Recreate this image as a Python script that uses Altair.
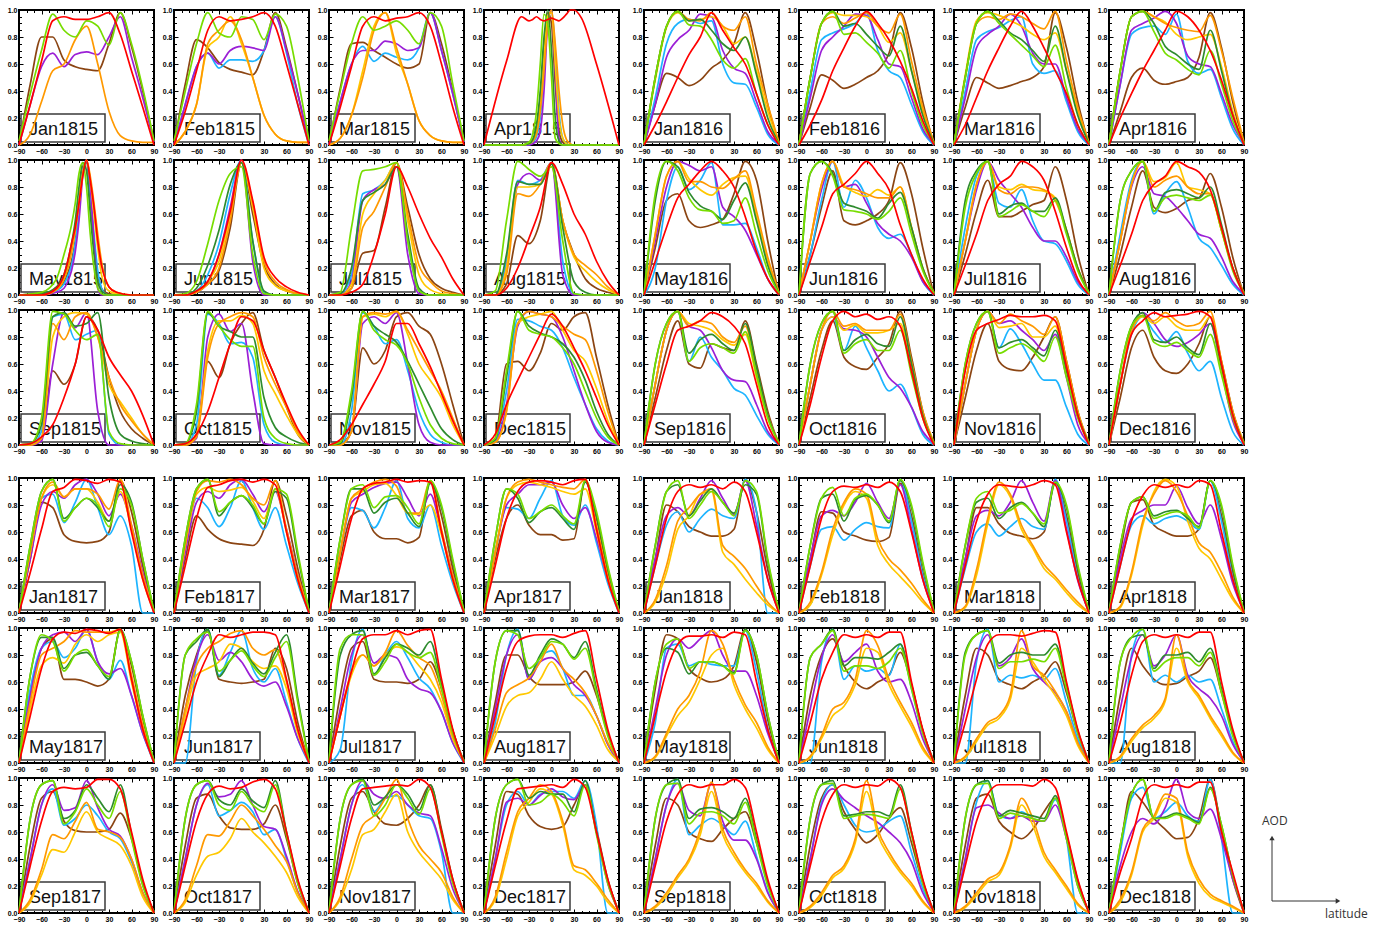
import altair as alt
import pandas as pd

# latitude grids (degrees)
LAT = [-90, -75, -60, -45, -30, -15, 0, 15, 30, 45, 60, 75, 90]
LAT_FINE = [-90, -60, -40, -30, -25, -20, -15, -10, -5, 0, 5, 10, 15, 20, 25, 30, 40, 60, 90]

X_TICKS = [-90, -60, -30, 0, 30, 60, 90]
X_MINOR = [-80, -70, -50, -40, -20, -10, 10, 20, 40, 50, 70, 80]
Y_TICKS = [0.0, 0.2, 0.4, 0.6, 0.8, 1.0]
Y_MINOR = [0.05, 0.1, 0.15, 0.25, 0.3, 0.35, 0.45, 0.5, 0.55, 0.65, 0.7, 0.75, 0.85, 0.9, 0.95]

# series keys: R red, O orange, Y gold, L lime, G green, B brown, C sky blue, P purple
SERIES = ["B", "C", "P", "Y", "O", "G", "L", "R"]
COLORS = ["#8b4513", "#1eb4ff", "#9b1fd6", "#ffc800", "#ff9900", "#2e8b2e", "#77dd00", "#ff0000"]

# normalised AOD values (x100)
JAN1815 = dict(
    R=[0, 30, 62, 92, 95, 93, 93, 95, 98, 82, 55, 28, 0],
    O=[0, 8, 32, 55, 60, 78, 88, 60, 25, 7, 3, 2, 2],
    L=[3, 38, 70, 97, 85, 80, 92, 88, 74, 98, 75, 42, 3],
    B=[0, 45, 80, 80, 63, 58, 56, 55, 75, 98, 73, 40, 2],
    P=[0, 30, 58, 68, 58, 67, 69, 67, 80, 95, 65, 35, 2],
)
FEB1815 = dict(
    R=[0, 25, 55, 85, 95, 92, 93, 95, 98, 88, 60, 30, 0],
    O=[0, 10, 30, 75, 85, 92, 78, 50, 22, 8, 3, 2, 2],
    Y=[0, 10, 30, 72, 80, 95, 75, 50, 22, 8, 3, 2, 2],
    L=[3, 40, 75, 98, 83, 80, 95, 93, 78, 97, 88, 50, 3],
    B=[0, 45, 78, 72, 61, 56, 54, 52, 70, 98, 72, 38, 2],
    C=[0, 30, 58, 68, 57, 63, 63, 62, 70, 95, 68, 30, 0],
    P=[0, 30, 58, 68, 60, 70, 73, 72, 70, 95, 70, 38, 2],
)
MAR1815 = dict(
    R=[0, 28, 58, 88, 95, 92, 94, 95, 98, 88, 60, 28, 0],
    O=[0, 5, 22, 50, 85, 98, 72, 45, 18, 7, 3, 2, 2],
    Y=[0, 5, 22, 55, 88, 98, 68, 45, 18, 7, 3, 2, 2],
    L=[3, 40, 75, 95, 85, 88, 92, 85, 75, 98, 88, 45, 3],
    B=[0, 42, 75, 76, 70, 65, 60, 57, 60, 98, 75, 40, 2],
    C=[0, 32, 60, 73, 62, 68, 65, 63, 72, 98, 70, 38, 2],
    P=[0, 32, 60, 70, 70, 77, 75, 70, 72, 98, 70, 38, 2],
)
APR1815 = dict(
    lat=LAT_FINE,
    R=[0, 62, 95, 92, 93, 95, 93, 92, 93, 94, 93, 92, 94, 97, 100, 100, 94, 60, 0],
    L=[0, 0, 0, 2, 8, 25, 60, 97, 90, 50, 5, 1, 0, 0, 0, 0, 0, 0, 0],
    G=[0, 0, 0, 1, 4, 15, 40, 80, 100, 70, 20, 3, 0, 0, 0, 0, 0, 0, 0],
    Y=[0, 0, 0, 1, 3, 10, 30, 65, 95, 98, 60, 20, 5, 1, 0, 0, 0, 0, 0],
    O=[0, 0, 0, 1, 3, 8, 25, 55, 90, 100, 75, 40, 15, 4, 1, 0, 0, 0, 0],
    B=[0, 0, 0, 1, 4, 12, 35, 70, 98, 90, 45, 10, 2, 0, 0, 0, 0, 0, 0],
    C=[0, 0, 0, 0, 2, 6, 20, 55, 92, 100, 70, 25, 5, 1, 0, 0, 0, 0, 0],
    P=[0, 0, 0, 0, 1, 3, 10, 40, 90, 100, 55, 5, 0, 0, 0, 0, 0, 0, 0],
)
MAY1815 = dict(
    lat=LAT_FINE,
    L=[0, 2, 12, 30, 40, 52, 68, 90, 98, 80, 45, 20, 5, 1, 0, 0, 0, 0, 0],
    G=[0, 1, 6, 15, 25, 38, 55, 80, 98, 92, 60, 30, 10, 3, 1, 0, 0, 0, 0],
    B=[0, 1, 4, 10, 16, 25, 40, 65, 95, 98, 70, 40, 15, 5, 2, 1, 0, 0, 0],
    C=[0, 0, 3, 8, 14, 22, 38, 62, 92, 100, 75, 45, 18, 5, 1, 0, 0, 0, 0],
    P=[0, 0, 2, 5, 10, 18, 32, 55, 88, 100, 80, 40, 5, 0, 0, 0, 0, 0, 0],
    R=[0, 0, 5, 15, 25, 38, 50, 68, 88, 100, 85, 65, 40, 22, 12, 6, 2, 0, 0],
    O=[0, 0, 4, 12, 20, 32, 48, 68, 90, 100, 88, 68, 45, 25, 12, 6, 2, 0, 0],
    Y=[0, 0, 4, 12, 20, 32, 48, 68, 90, 100, 85, 60, 35, 15, 6, 3, 1, 0, 0],
)
JUN1815 = dict(
    L=[0, 1, 10, 38, 70, 90, 95, 30, 1, 0, 0, 0, 0],
    G=[0, 0, 5, 22, 48, 82, 98, 40, 3, 0, 0, 0, 0],
    C=[0, 0, 3, 15, 38, 75, 100, 40, 2, 0, 0, 0, 0],
    P=[0, 0, 2, 10, 30, 65, 100, 25, 0, 0, 0, 0, 0],
    B=[0, 0, 2, 8, 18, 50, 98, 60, 22, 8, 3, 1, 0],
    O=[0, 0, 2, 8, 20, 55, 98, 68, 25, 10, 4, 1, 0],
    Y=[0, 0, 2, 10, 25, 60, 98, 65, 20, 7, 3, 1, 0],
    R=[0, 0, 3, 10, 30, 62, 100, 70, 28, 13, 6, 2, 0],
)
JUL1815 = dict(
    L=[0, 2, 50, 92, 93, 95, 98, 40, 3, 0, 0, 0, 0],
    G=[0, 1, 20, 70, 76, 82, 95, 45, 5, 0, 0, 0, 0],
    C=[0, 1, 15, 75, 78, 85, 98, 40, 3, 0, 0, 0, 0],
    P=[0, 0, 10, 70, 78, 82, 95, 30, 1, 0, 0, 0, 0],
    Y=[0, 0, 8, 60, 75, 85, 98, 55, 15, 4, 1, 0, 0],
    O=[0, 0, 5, 50, 62, 80, 98, 60, 22, 10, 3, 1, 0],
    B=[0, 0, 5, 31, 33, 65, 98, 65, 30, 12, 5, 2, 0],
    R=[0, 0, 2, 8, 30, 60, 95, 80, 60, 42, 28, 12, 0],
)
AUG1815 = dict(
    L=[0, 3, 55, 99, 93, 88, 95, 40, 1, 0, 0, 0, 0],
    P=[0, 0, 20, 82, 90, 85, 98, 15, 0, 0, 0, 0, 0],
    C=[0, 0, 25, 85, 82, 85, 98, 25, 1, 0, 0, 0, 0],
    G=[0, 0, 30, 84, 82, 82, 97, 50, 10, 2, 0, 0, 0],
    Y=[0, 0, 20, 80, 80, 82, 95, 55, 28, 18, 10, 4, 0],
    O=[0, 0, 15, 75, 73, 82, 98, 55, 30, 22, 15, 6, 0],
    B=[0, 0, 8, 44, 38, 55, 98, 55, 30, 12, 5, 2, 0],
    R=[0, 0, 5, 20, 42, 65, 98, 82, 60, 45, 25, 10, 0],
)
SEP1815 = dict(
    L=[0, 1, 20, 99, 97, 85, 78, 82, 10, 1, 0, 0, 0],
    G=[0, 1, 15, 95, 98, 88, 90, 98, 35, 8, 3, 1, 0],
    C=[0, 0, 10, 95, 97, 78, 82, 85, 8, 0, 0, 0, 0],
    P=[0, 0, 3, 60, 98, 87, 98, 25, 0, 0, 0, 0, 0],
    O=[0, 0, 5, 90, 78, 95, 98, 80, 50, 30, 18, 8, 0],
    Y=[0, 0, 5, 80, 95, 98, 97, 80, 45, 32, 20, 8, 0],
    B=[0, 0, 5, 55, 45, 60, 95, 85, 50, 25, 12, 5, 0],
    R=[0, 1, 6, 15, 35, 60, 95, 85, 65, 52, 40, 22, 0],
)
OCT1815 = dict(
    L=[0, 1, 30, 99, 88, 78, 73, 73, 20, 5, 1, 0, 0],
    G=[0, 1, 25, 98, 88, 84, 80, 80, 35, 13, 6, 2, 0],
    C=[0, 0, 15, 97, 90, 75, 76, 65, 15, 2, 0, 0, 0],
    P=[0, 0, 5, 80, 97, 84, 90, 40, 1, 0, 0, 0, 0],
    Y=[0, 0, 8, 70, 92, 92, 96, 90, 55, 38, 22, 8, 0],
    O=[0, 0, 6, 65, 90, 95, 98, 95, 65, 45, 28, 10, 0],
    B=[0, 0, 8, 62, 50, 75, 90, 98, 70, 50, 28, 8, 0],
    R=[0, 1, 8, 25, 50, 75, 95, 92, 70, 50, 30, 12, 0],
)
NOV1815 = dict(
    L=[0, 2, 40, 99, 85, 78, 74, 60, 35, 15, 5, 1, 0],
    G=[0, 1, 35, 99, 88, 82, 76, 62, 45, 28, 12, 4, 0],
    C=[0, 0, 25, 98, 88, 75, 78, 55, 25, 8, 2, 0, 0],
    P=[0, 0, 10, 90, 95, 90, 98, 60, 15, 2, 0, 0, 0],
    Y=[0, 0, 10, 95, 97, 95, 99, 82, 60, 48, 35, 15, 0],
    O=[0, 0, 10, 95, 98, 97, 99, 85, 70, 55, 40, 20, 0],
    B=[0, 1, 10, 72, 60, 70, 95, 98, 88, 82, 60, 30, 0],
    R=[0, 4, 15, 30, 45, 62, 90, 90, 75, 58, 38, 18, 0],
)
DEC1815 = dict(
    L=[0, 5, 55, 99, 85, 82, 80, 72, 60, 40, 20, 6, 0],
    G=[0, 4, 50, 99, 88, 83, 80, 75, 65, 48, 25, 8, 0],
    C=[0, 3, 40, 93, 92, 88, 85, 72, 50, 30, 12, 3, 0],
    P=[0, 2, 30, 88, 99, 97, 95, 80, 55, 30, 10, 2, 0],
    Y=[0, 2, 25, 90, 95, 97, 99, 85, 70, 62, 42, 18, 0],
    O=[0, 2, 25, 90, 99, 97, 95, 88, 82, 78, 55, 25, 0],
    B=[0, 5, 60, 62, 55, 68, 90, 85, 95, 98, 65, 30, 0],
    R=[0, 8, 30, 48, 65, 82, 97, 88, 72, 55, 35, 15, 0],
)

JAN1816 = dict(
    O=[0, 50, 88, 99, 93, 92, 98, 88, 85, 95, 60, 30, 2],
    Y=[0, 48, 87, 98, 92, 93, 95, 88, 75, 80, 55, 25, 1],
    L=[0, 50, 88, 99, 89, 88, 78, 63, 57, 64, 38, 15, 1],
    G=[0, 50, 88, 99, 92, 93, 85, 75, 70, 80, 52, 20, 1],
    B=[0, 30, 53, 50, 44, 48, 57, 63, 75, 98, 70, 30, 0],
    C=[0, 35, 75, 90, 93, 90, 92, 60, 46, 45, 28, 8, 0],
    P=[0, 30, 65, 78, 85, 97, 95, 70, 57, 53, 32, 10, 1],
    R=[0, 15, 32, 50, 67, 80, 98, 85, 72, 60, 38, 15, 0],
)
FEB1816 = dict(
    O=[0, 50, 90, 95, 90, 94, 98, 88, 83, 97, 62, 28, 2],
    Y=[0, 50, 90, 98, 96, 96, 95, 88, 76, 83, 55, 25, 1],
    L=[0, 50, 90, 99, 82, 83, 76, 68, 57, 70, 40, 15, 1],
    G=[0, 50, 90, 99, 88, 90, 82, 73, 66, 88, 55, 22, 1],
    B=[0, 28, 52, 48, 42, 45, 50, 55, 68, 98, 72, 32, 0],
    C=[0, 40, 78, 83, 86, 90, 98, 70, 55, 50, 30, 10, 0],
    P=[0, 35, 70, 80, 88, 97, 96, 78, 60, 58, 35, 12, 1],
    R=[0, 15, 33, 55, 72, 88, 99, 90, 78, 62, 42, 18, 0],
)
MAR1816 = dict(
    O=[0, 50, 90, 95, 93, 97, 95, 90, 86, 99, 62, 28, 2],
    Y=[0, 52, 92, 98, 96, 92, 88, 82, 78, 83, 55, 25, 1],
    L=[0, 50, 90, 99, 90, 82, 74, 66, 58, 74, 42, 15, 1],
    G=[0, 50, 90, 99, 92, 83, 78, 70, 62, 88, 55, 22, 1],
    B=[0, 28, 50, 46, 42, 44, 47, 50, 58, 98, 72, 32, 0],
    C=[0, 40, 78, 84, 87, 92, 95, 60, 53, 55, 32, 10, 0],
    P=[0, 35, 72, 82, 88, 97, 88, 68, 60, 60, 35, 12, 1],
    R=[0, 15, 35, 55, 72, 88, 99, 88, 72, 55, 38, 15, 0],
)
APR1816 = dict(
    O=[0, 55, 95, 99, 95, 90, 87, 85, 84, 96, 70, 35, 2],
    Y=[0, 55, 95, 99, 95, 91, 82, 78, 80, 82, 58, 25, 1],
    L=[0, 55, 95, 99, 84, 68, 63, 56, 52, 70, 45, 18, 1],
    G=[0, 55, 95, 99, 90, 73, 67, 60, 56, 85, 55, 22, 1],
    B=[0, 25, 50, 57, 48, 45, 47, 50, 65, 98, 72, 32, 0],
    C=[0, 45, 82, 87, 88, 82, 97, 62, 53, 56, 35, 12, 0],
    P=[0, 45, 85, 90, 94, 99, 90, 66, 60, 58, 38, 15, 1],
    R=[0, 20, 38, 55, 70, 85, 99, 95, 85, 70, 48, 22, 0],
)
MAY1816 = dict(
    L=[0, 75, 99, 92, 72, 63, 62, 53, 55, 72, 45, 18, 1],
    G=[0, 70, 99, 95, 76, 66, 62, 56, 70, 83, 55, 22, 1],
    O=[0, 45, 88, 99, 84, 84, 80, 79, 86, 92, 62, 28, 2],
    Y=[0, 45, 88, 99, 86, 78, 74, 82, 87, 88, 58, 25, 1],
    B=[0, 35, 70, 75, 55, 50, 52, 56, 75, 99, 85, 40, 0],
    C=[0, 20, 70, 95, 78, 85, 98, 52, 52, 53, 35, 12, 0],
    P=[0, 40, 80, 99, 96, 92, 95, 65, 58, 48, 30, 12, 1],
    R=[0, 25, 50, 72, 82, 92, 99, 92, 80, 58, 32, 12, 0],
)
JUN1816 = dict(
    L=[0, 90, 99, 88, 63, 62, 60, 56, 62, 72, 45, 18, 1],
    G=[0, 90, 99, 90, 68, 65, 62, 57, 68, 76, 50, 20, 1],
    O=[0, 40, 82, 99, 80, 78, 75, 72, 72, 80, 50, 20, 2],
    Y=[0, 40, 82, 99, 81, 76, 73, 78, 74, 80, 50, 20, 1],
    B=[0, 30, 65, 92, 55, 52, 55, 60, 70, 98, 75, 35, 0],
    C=[0, 30, 70, 99, 65, 85, 72, 50, 42, 45, 30, 10, 0],
    P=[0, 40, 78, 99, 80, 82, 68, 53, 45, 40, 28, 10, 1],
    R=[0, 25, 50, 75, 82, 90, 99, 90, 78, 52, 30, 12, 0],
)
JUL1816 = dict(
    L=[0, 65, 90, 99, 58, 62, 67, 62, 58, 70, 45, 18, 1],
    G=[0, 70, 92, 99, 60, 66, 68, 62, 62, 72, 48, 20, 1],
    O=[0, 40, 82, 99, 78, 75, 80, 80, 78, 70, 48, 20, 2],
    Y=[0, 40, 82, 99, 80, 78, 82, 78, 77, 72, 48, 20, 1],
    B=[0, 30, 62, 85, 58, 58, 62, 67, 70, 95, 70, 30, 0],
    C=[0, 50, 88, 99, 68, 65, 78, 55, 40, 38, 25, 8, 0],
    P=[0, 40, 78, 99, 85, 75, 65, 50, 40, 40, 28, 10, 1],
    R=[0, 22, 45, 70, 82, 88, 99, 95, 85, 62, 35, 12, 0],
)
AUG1816 = dict(
    L=[0, 70, 92, 99, 62, 72, 74, 72, 70, 74, 48, 18, 1],
    G=[0, 70, 92, 99, 62, 76, 78, 75, 72, 80, 52, 20, 1],
    O=[0, 40, 82, 99, 80, 85, 88, 80, 75, 75, 48, 20, 2],
    Y=[0, 40, 82, 99, 84, 87, 98, 80, 78, 75, 48, 20, 1],
    B=[0, 30, 65, 92, 65, 61, 64, 70, 72, 90, 65, 28, 0],
    C=[0, 45, 85, 99, 60, 75, 84, 65, 42, 35, 22, 8, 0],
    P=[0, 40, 80, 95, 75, 73, 65, 55, 45, 42, 28, 10, 1],
    R=[0, 22, 45, 70, 82, 88, 99, 95, 91, 78, 50, 20, 0],
)
SEP1816 = dict(
    R=[0, 30, 60, 85, 88, 92, 98, 95, 88, 75, 45, 15, 0],
    O=[0, 45, 85, 99, 88, 92, 90, 80, 76, 88, 55, 22, 2],
    Y=[0, 45, 85, 99, 90, 88, 85, 78, 74, 82, 50, 20, 1],
    L=[0, 60, 90, 99, 62, 72, 75, 72, 68, 84, 52, 20, 1],
    G=[0, 60, 90, 99, 68, 78, 82, 75, 70, 90, 58, 22, 1],
    B=[0, 35, 70, 92, 60, 57, 75, 72, 70, 92, 60, 25, 0],
    C=[0, 45, 85, 99, 62, 80, 65, 55, 42, 37, 22, 8, 0],
    P=[0, 45, 85, 99, 88, 85, 72, 55, 48, 47, 30, 10, 1],
)
OCT1816 = dict(
    R=[0, 30, 65, 92, 99, 95, 97, 93, 95, 88, 55, 20, 0],
    O=[0, 45, 85, 99, 88, 90, 85, 85, 85, 97, 62, 25, 2],
    Y=[0, 45, 85, 95, 85, 89, 83, 83, 85, 90, 55, 22, 1],
    L=[0, 60, 90, 99, 68, 75, 78, 70, 70, 85, 52, 20, 1],
    G=[0, 60, 90, 99, 70, 78, 82, 75, 73, 95, 60, 22, 1],
    B=[0, 35, 70, 92, 65, 58, 56, 65, 75, 99, 65, 25, 0],
    C=[0, 45, 85, 95, 70, 88, 72, 55, 40, 45, 28, 8, 0],
    P=[0, 45, 85, 95, 86, 85, 80, 65, 50, 42, 28, 10, 1],
)
NOV1816 = dict(
    R=[0, 55, 85, 90, 93, 96, 95, 95, 96, 92, 58, 22, 0],
    O=[0, 45, 85, 99, 90, 97, 92, 88, 82, 95, 62, 25, 2],
    Y=[0, 45, 85, 99, 87, 88, 90, 80, 80, 88, 55, 22, 1],
    L=[0, 60, 90, 99, 68, 72, 75, 70, 62, 80, 50, 20, 1],
    G=[0, 60, 90, 99, 72, 76, 78, 72, 66, 85, 55, 22, 1],
    B=[0, 35, 70, 90, 62, 56, 55, 65, 80, 95, 62, 25, 0],
    C=[0, 45, 85, 99, 72, 86, 75, 60, 48, 48, 28, 8, 0],
    P=[0, 45, 85, 99, 90, 92, 85, 78, 70, 82, 50, 15, 1],
)
DEC1816 = dict(
    R=[0, 45, 82, 92, 98, 95, 96, 97, 99, 95, 60, 22, 0],
    O=[0, 45, 85, 96, 92, 98, 92, 88, 90, 99, 62, 25, 2],
    Y=[0, 45, 85, 95, 90, 95, 88, 85, 85, 95, 55, 22, 1],
    L=[0, 55, 88, 96, 76, 73, 76, 70, 65, 82, 52, 20, 1],
    G=[0, 55, 88, 98, 78, 76, 80, 72, 67, 90, 58, 22, 1],
    B=[0, 35, 72, 85, 65, 55, 53, 60, 75, 95, 62, 25, 0],
    C=[0, 45, 82, 95, 84, 76, 84, 68, 55, 62, 35, 10, 0],
    P=[0, 45, 85, 98, 90, 78, 73, 76, 82, 90, 55, 18, 1],
)

JAN1817 = dict(
    R=[0, 30, 62, 90, 93, 99, 98, 96, 99, 97, 60, 25, 0],
    O=[0, 45, 85, 97, 86, 92, 92, 88, 77, 99, 65, 28, 2],
    Y=[0, 45, 85, 95, 86, 92, 92, 82, 68, 90, 62, 25, 1],
    L=[0, 50, 90, 99, 68, 78, 85, 80, 64, 92, 80, 40, 1],
    G=[0, 50, 90, 99, 70, 78, 85, 78, 68, 95, 82, 40, 1],
    B=[0, 40, 82, 78, 58, 53, 52, 53, 60, 98, 75, 35, 0],
    C=[0, 45, 85, 88, 67, 82, 99, 78, 58, 72, 50, 0, 0],
    P=[0, 40, 80, 90, 85, 95, 99, 88, 72, 88, 65, 30, 1],
)
FEB1817 = dict(
    R=[0, 35, 70, 93, 95, 98, 99, 97, 99, 95, 60, 25, 0],
    O=[0, 50, 90, 98, 97, 99, 95, 85, 80, 98, 62, 28, 2],
    Y=[0, 50, 88, 93, 90, 91, 93, 83, 70, 92, 60, 25, 1],
    L=[0, 55, 92, 99, 75, 82, 87, 80, 66, 92, 88, 45, 1],
    G=[0, 55, 92, 99, 72, 82, 87, 78, 66, 90, 85, 42, 1],
    B=[0, 40, 72, 62, 55, 52, 51, 50, 62, 98, 72, 33, 0],
    C=[0, 48, 85, 78, 64, 78, 98, 78, 62, 78, 50, 22, 0],
    P=[0, 45, 82, 90, 85, 95, 99, 88, 75, 90, 62, 28, 1],
)
MAR1817 = dict(
    R=[0, 35, 70, 92, 96, 97, 99, 97, 98, 97, 60, 25, 0],
    O=[0, 45, 85, 92, 97, 99, 94, 74, 74, 98, 62, 28, 2],
    Y=[0, 45, 85, 90, 95, 96, 87, 74, 73, 80, 58, 25, 1],
    L=[0, 55, 92, 95, 78, 86, 87, 78, 66, 98, 80, 40, 1],
    G=[0, 55, 92, 92, 74, 82, 85, 74, 64, 96, 78, 38, 1],
    B=[0, 40, 72, 76, 60, 55, 55, 52, 56, 98, 72, 33, 0],
    C=[0, 45, 78, 76, 63, 78, 98, 70, 63, 80, 50, 22, 0],
    P=[0, 45, 82, 88, 93, 96, 97, 85, 72, 88, 60, 28, 1],
)
APR1817 = dict(
    R=[0, 35, 70, 90, 97, 98, 97, 95, 98, 99, 62, 25, 0],
    O=[0, 45, 85, 97, 99, 97, 95, 93, 92, 99, 65, 28, 2],
    Y=[0, 45, 85, 95, 97, 95, 93, 90, 88, 92, 60, 25, 1],
    L=[0, 55, 92, 88, 70, 75, 80, 72, 66, 98, 75, 35, 1],
    G=[0, 55, 92, 85, 67, 75, 78, 70, 62, 97, 72, 33, 1],
    B=[0, 40, 70, 80, 65, 58, 58, 54, 55, 98, 70, 30, 0],
    C=[0, 45, 78, 77, 70, 85, 98, 72, 65, 80, 52, 22, 0],
    P=[0, 45, 80, 88, 95, 95, 97, 80, 70, 78, 55, 25, 1],
)
MAY1817 = dict(
    R=[0, 35, 70, 92, 97, 96, 99, 98, 96, 99, 62, 25, 0],
    O=[0, 45, 80, 85, 90, 98, 97, 97, 97, 99, 65, 28, 2],
    Y=[0, 40, 72, 78, 74, 88, 95, 90, 95, 97, 60, 25, 1],
    L=[0, 65, 95, 90, 68, 80, 84, 72, 64, 98, 75, 35, 1],
    G=[0, 65, 93, 93, 70, 80, 82, 72, 62, 99, 75, 35, 1],
    B=[0, 50, 85, 92, 62, 62, 60, 57, 62, 98, 72, 33, 0],
    C=[0, 55, 85, 90, 78, 85, 99, 75, 62, 76, 50, 22, 0],
    P=[0, 50, 85, 95, 97, 90, 99, 75, 66, 70, 50, 22, 1],
)
JUN1817 = dict(
    L=[0, 80, 92, 97, 68, 76, 83, 72, 64, 78, 90, 45, 1],
    G=[0, 80, 90, 99, 64, 76, 85, 74, 66, 82, 95, 48, 1],
    B=[0, 50, 80, 98, 62, 60, 59, 60, 62, 85, 70, 30, 0],
    O=[0, 40, 72, 85, 90, 96, 98, 85, 80, 84, 60, 25, 2],
    Y=[0, 35, 65, 70, 75, 88, 85, 75, 70, 72, 55, 22, 1],
    C=[0, 0, 75, 99, 65, 82, 98, 70, 60, 70, 45, 18, 0],
    P=[0, 40, 78, 95, 76, 82, 75, 62, 57, 60, 42, 18, 1],
    R=[0, 30, 60, 80, 95, 93, 95, 97, 97, 95, 62, 25, 0],
)
JUL1817 = dict(
    L=[0, 85, 95, 95, 65, 75, 88, 82, 78, 82, 55, 22, 1],
    G=[0, 80, 95, 98, 66, 78, 88, 85, 80, 90, 58, 24, 1],
    O=[0, 35, 68, 80, 72, 82, 98, 87, 78, 72, 50, 20, 2],
    Y=[0, 35, 65, 80, 72, 80, 86, 82, 72, 62, 45, 18, 1],
    B=[0, 50, 85, 90, 62, 60, 60, 59, 62, 75, 55, 24, 0],
    C=[0, 10, 75, 99, 65, 80, 90, 78, 63, 55, 38, 15, 0],
    P=[0, 40, 80, 95, 74, 80, 78, 62, 55, 52, 38, 15, 1],
    R=[0, 35, 68, 92, 95, 95, 98, 95, 98, 99, 62, 25, 0],
)
AUG1817 = dict(
    L=[0, 75, 98, 95, 70, 78, 90, 88, 77, 85, 52, 20, 1],
    G=[0, 75, 98, 98, 65, 80, 92, 88, 78, 90, 55, 22, 1],
    O=[0, 25, 52, 58, 63, 75, 88, 70, 62, 52, 35, 15, 2],
    Y=[0, 20, 42, 50, 52, 62, 75, 62, 50, 42, 28, 10, 1],
    B=[0, 45, 80, 80, 64, 58, 58, 58, 60, 68, 50, 22, 0],
    C=[0, 30, 80, 99, 62, 78, 83, 70, 50, 50, 35, 14, 0],
    P=[0, 40, 80, 95, 62, 75, 78, 70, 58, 50, 35, 14, 1],
    R=[0, 35, 70, 90, 94, 95, 95, 93, 96, 98, 62, 25, 0],
)
SEP1817 = dict(
    R=[0, 35, 68, 90, 93, 92, 93, 99, 99, 92, 60, 25, 0],
    L=[0, 70, 95, 98, 66, 75, 92, 80, 70, 90, 55, 20, 1],
    G=[0, 70, 95, 98, 70, 76, 95, 85, 75, 95, 58, 22, 1],
    O=[0, 10, 32, 58, 55, 68, 82, 62, 60, 56, 40, 15, 0],
    Y=[0, 8, 28, 47, 45, 60, 75, 60, 55, 50, 35, 12, 0],
    B=[0, 50, 85, 90, 68, 61, 60, 60, 62, 74, 55, 22, 0],
    C=[0, 40, 80, 92, 65, 70, 80, 72, 60, 55, 38, 15, 0],
    P=[0, 40, 80, 95, 76, 78, 98, 78, 62, 57, 40, 15, 1],
)
OCT1817 = dict(
    R=[0, 35, 68, 88, 94, 92, 93, 97, 99, 92, 60, 25, 0],
    L=[0, 70, 95, 98, 80, 76, 90, 80, 75, 95, 58, 22, 1],
    G=[0, 70, 95, 98, 84, 80, 92, 83, 78, 98, 60, 24, 1],
    O=[0, 10, 35, 58, 57, 68, 80, 72, 62, 50, 38, 15, 0],
    Y=[0, 8, 28, 42, 45, 55, 70, 60, 52, 42, 30, 12, 0],
    B=[0, 50, 85, 88, 72, 63, 62, 62, 66, 80, 55, 22, 0],
    C=[0, 40, 80, 95, 72, 76, 82, 75, 58, 62, 40, 15, 0],
    P=[0, 40, 80, 96, 86, 88, 98, 80, 64, 62, 42, 16, 1],
)
NOV1817 = dict(
    R=[0, 35, 70, 92, 93, 94, 95, 94, 99, 93, 60, 25, 0],
    L=[0, 70, 95, 98, 72, 80, 95, 85, 73, 92, 58, 22, 1],
    G=[0, 70, 95, 99, 80, 86, 95, 88, 76, 95, 60, 24, 1],
    O=[0, 12, 40, 65, 72, 85, 99, 70, 50, 40, 30, 12, 0],
    Y=[0, 10, 32, 58, 62, 75, 88, 60, 45, 35, 25, 10, 0],
    B=[0, 50, 85, 90, 75, 66, 65, 70, 80, 95, 62, 25, 0],
    C=[0, 40, 80, 95, 75, 85, 87, 80, 72, 70, 45, 0, 0],
    P=[0, 40, 80, 98, 88, 85, 90, 80, 74, 72, 48, 18, 1],
)
DEC1817 = dict(
    R=[0, 35, 68, 92, 93, 94, 95, 93, 99, 93, 60, 25, 0],
    L=[0, 70, 95, 99, 80, 82, 88, 82, 72, 95, 58, 22, 1],
    G=[0, 70, 95, 99, 85, 90, 88, 88, 75, 98, 60, 24, 1],
    O=[0, 12, 45, 75, 85, 95, 90, 68, 35, 32, 22, 10, 0],
    Y=[0, 10, 40, 72, 82, 92, 88, 65, 32, 28, 20, 8, 0],
    B=[0, 50, 90, 88, 72, 64, 62, 64, 80, 95, 62, 25, 0],
    C=[0, 40, 80, 90, 80, 88, 90, 90, 85, 98, 65, 0, 0],
    P=[0, 40, 82, 85, 80, 87, 92, 86, 84, 95, 60, 22, 1],
)

JAN1818 = dict(
    R=[0, 35, 70, 90, 95, 93, 95, 92, 97, 90, 60, 25, 0],
    O=[0, 10, 35, 68, 78, 88, 92, 50, 42, 33, 20, 8, 0],
    Y=[0, 8, 30, 62, 72, 88, 90, 45, 36, 25, 15, 6, 0],
    L=[0, 50, 90, 98, 70, 80, 90, 82, 72, 98, 90, 40, 1],
    G=[0, 50, 90, 95, 72, 83, 92, 82, 74, 95, 88, 38, 1],
    B=[0, 40, 80, 75, 64, 60, 57, 57, 62, 99, 75, 32, 0],
    C=[0, 35, 65, 75, 60, 70, 77, 72, 70, 99, 75, 0, 0],
    P=[0, 40, 72, 78, 72, 85, 98, 85, 73, 98, 65, 25, 1],
)
FEB1818 = dict(
    R=[0, 35, 70, 90, 94, 93, 95, 93, 97, 90, 60, 25, 0],
    O=[0, 8, 30, 62, 82, 92, 88, 55, 40, 32, 22, 10, 0],
    Y=[0, 6, 28, 58, 80, 90, 85, 50, 36, 27, 18, 8, 0],
    L=[0, 50, 85, 93, 72, 85, 88, 80, 68, 99, 80, 38, 1],
    G=[0, 50, 85, 88, 68, 84, 87, 80, 67, 98, 78, 36, 1],
    B=[0, 40, 75, 74, 60, 57, 54, 53, 56, 96, 72, 30, 0],
    C=[0, 35, 62, 64, 54, 62, 67, 64, 63, 99, 68, 28, 0],
    P=[0, 40, 72, 76, 72, 82, 96, 82, 70, 95, 62, 25, 1],
)
MAR1818 = dict(
    R=[0, 35, 68, 88, 95, 94, 93, 95, 98, 95, 60, 25, 0],
    O=[0, 5, 32, 70, 97, 88, 65, 50, 36, 27, 17, 8, 0],
    Y=[0, 4, 28, 66, 95, 86, 62, 48, 33, 25, 15, 6, 0],
    L=[0, 50, 85, 90, 74, 76, 81, 74, 66, 97, 80, 36, 1],
    G=[0, 50, 82, 85, 70, 78, 82, 74, 64, 96, 78, 34, 1],
    B=[0, 40, 78, 78, 66, 59, 57, 55, 60, 98, 72, 30, 0],
    C=[0, 33, 60, 66, 57, 64, 70, 64, 62, 99, 68, 26, 0],
    P=[0, 40, 72, 76, 72, 82, 98, 82, 68, 98, 62, 24, 1],
)
APR1818 = dict(
    R=[0, 35, 68, 87, 95, 93, 95, 93, 98, 95, 60, 25, 0],
    O=[0, 5, 30, 68, 88, 98, 90, 72, 52, 45, 30, 12, 0],
    Y=[0, 4, 28, 65, 90, 99, 94, 68, 48, 40, 25, 10, 0],
    L=[0, 50, 82, 86, 70, 73, 75, 72, 63, 98, 80, 36, 1],
    G=[0, 50, 82, 86, 72, 75, 76, 70, 64, 98, 78, 34, 1],
    B=[0, 45, 82, 84, 65, 60, 57, 57, 62, 98, 72, 30, 0],
    C=[0, 35, 65, 72, 66, 70, 72, 68, 62, 98, 68, 26, 0],
    P=[0, 40, 70, 76, 80, 80, 94, 78, 66, 80, 55, 22, 1],
)
MAY1818 = dict(
    R=[0, 35, 68, 88, 94, 94, 95, 93, 97, 95, 60, 25, 0],
    O=[0, 5, 22, 40, 50, 68, 98, 88, 62, 43, 30, 12, 0],
    Y=[0, 4, 20, 35, 45, 62, 80, 85, 58, 40, 26, 10, 0],
    L=[0, 60, 88, 92, 70, 75, 75, 72, 66, 98, 80, 36, 1],
    G=[0, 60, 85, 82, 66, 75, 75, 72, 67, 99, 80, 36, 1],
    B=[0, 55, 95, 92, 70, 63, 60, 62, 72, 99, 75, 32, 0],
    C=[0, 30, 85, 88, 72, 75, 73, 72, 72, 98, 68, 26, 0],
    P=[0, 40, 80, 92, 85, 92, 98, 80, 68, 68, 50, 22, 1],
)
JUN1818 = dict(
    L=[0, 78, 88, 98, 68, 72, 72, 70, 75, 85, 55, 22, 1],
    G=[0, 78, 88, 99, 72, 78, 78, 77, 82, 88, 58, 24, 1],
    B=[0, 50, 80, 92, 72, 60, 55, 60, 65, 82, 58, 24, 0],
    O=[0, 5, 20, 40, 45, 62, 98, 87, 62, 45, 30, 12, 0],
    Y=[0, 4, 18, 35, 42, 58, 85, 82, 58, 42, 27, 10, 0],
    C=[0, 0, 75, 99, 62, 72, 68, 70, 65, 88, 55, 22, 0],
    P=[0, 40, 78, 95, 75, 82, 88, 68, 60, 62, 45, 18, 1],
    R=[0, 30, 62, 82, 95, 93, 95, 93, 97, 97, 60, 25, 0],
)
JUL1818 = dict(
    L=[0, 80, 95, 98, 70, 75, 75, 77, 75, 85, 55, 22, 1],
    G=[0, 82, 95, 98, 74, 80, 82, 80, 80, 88, 58, 24, 1],
    B=[0, 50, 85, 80, 62, 58, 55, 60, 65, 75, 52, 22, 0],
    O=[0, 5, 18, 30, 35, 50, 98, 72, 65, 53, 38, 15, 0],
    Y=[0, 4, 16, 28, 33, 47, 85, 75, 62, 50, 35, 13, 0],
    C=[0, 0, 75, 99, 60, 65, 63, 65, 62, 70, 45, 18, 0],
    P=[0, 40, 78, 95, 72, 78, 92, 70, 60, 52, 38, 15, 1],
    R=[0, 30, 62, 88, 95, 95, 94, 96, 98, 97, 60, 25, 0],
)
AUG1818 = dict(
    L=[0, 75, 93, 99, 68, 75, 78, 78, 72, 82, 52, 20, 1],
    G=[0, 75, 93, 95, 70, 80, 80, 82, 75, 85, 55, 22, 1],
    B=[0, 50, 85, 72, 62, 58, 59, 64, 68, 78, 52, 22, 0],
    O=[0, 5, 18, 28, 35, 48, 95, 62, 50, 35, 22, 8, 0],
    Y=[0, 4, 16, 26, 33, 46, 85, 60, 48, 33, 20, 7, 0],
    C=[0, 0, 80, 99, 60, 65, 60, 65, 60, 62, 40, 16, 0],
    P=[0, 40, 78, 95, 72, 80, 95, 65, 55, 48, 35, 14, 1],
    R=[0, 30, 65, 90, 95, 93, 95, 93, 97, 97, 60, 25, 0],
)
SEP1818 = dict(
    R=[0, 35, 68, 88, 95, 93, 95, 95, 99, 93, 60, 25, 0],
    L=[0, 70, 95, 96, 66, 74, 75, 72, 66, 82, 52, 20, 1],
    G=[0, 70, 95, 99, 70, 77, 78, 75, 70, 85, 55, 22, 1],
    O=[0, 5, 15, 28, 40, 62, 97, 62, 45, 32, 22, 9, 0],
    Y=[0, 4, 13, 26, 38, 58, 90, 58, 42, 30, 20, 8, 0],
    B=[0, 50, 85, 80, 60, 55, 53, 62, 70, 75, 52, 22, 0],
    C=[0, 40, 80, 99, 58, 65, 70, 65, 58, 68, 42, 16, 0],
    P=[0, 40, 80, 96, 76, 72, 96, 68, 54, 54, 40, 15, 1],
)
OCT1818 = dict(
    R=[0, 35, 68, 88, 95, 93, 95, 94, 99, 93, 60, 25, 0],
    L=[0, 70, 95, 96, 70, 72, 73, 72, 70, 92, 58, 22, 1],
    G=[0, 70, 95, 98, 72, 73, 75, 75, 72, 95, 60, 24, 1],
    O=[0, 5, 15, 28, 35, 55, 98, 62, 45, 32, 22, 9, 0],
    Y=[0, 4, 13, 26, 33, 52, 90, 58, 42, 30, 20, 8, 0],
    B=[0, 50, 85, 95, 75, 62, 52, 58, 70, 78, 52, 22, 0],
    C=[0, 40, 82, 95, 80, 65, 60, 62, 68, 72, 45, 18, 0],
    P=[0, 40, 80, 92, 84, 78, 72, 67, 60, 52, 38, 15, 1],
)
NOV1818 = dict(
    R=[0, 35, 68, 88, 95, 95, 95, 94, 99, 93, 60, 25, 0],
    L=[0, 70, 95, 96, 70, 74, 72, 70, 68, 85, 55, 20, 1],
    G=[0, 70, 95, 98, 72, 76, 74, 72, 70, 87, 57, 22, 1],
    O=[0, 5, 15, 25, 30, 50, 85, 70, 45, 32, 20, 7, 0],
    Y=[0, 4, 13, 23, 28, 48, 80, 65, 42, 30, 18, 6, 0],
    B=[0, 50, 85, 88, 68, 60, 55, 62, 75, 85, 58, 24, 0],
    C=[0, 40, 82, 98, 72, 70, 75, 70, 68, 84, 55, 0, 0],
    P=[0, 40, 78, 80, 74, 70, 72, 68, 68, 80, 55, 20, 1],
)
DEC1818 = dict(
    R=[0, 30, 55, 85, 95, 93, 95, 93, 97, 97, 60, 30, 0],
    L=[0, 50, 88, 99, 70, 70, 73, 70, 66, 92, 65, 28, 1],
    G=[0, 50, 88, 99, 70, 71, 74, 71, 67, 93, 65, 28, 1],
    B=[0, 48, 90, 82, 70, 62, 55, 56, 70, 99, 62, 25, 0],
    C=[0, 45, 85, 93, 70, 75, 82, 72, 68, 99, 55, 0, 0],
    P=[0, 35, 60, 70, 66, 78, 99, 75, 70, 77, 55, 25, 1],
    O=[0, 10, 30, 62, 72, 88, 85, 45, 25, 14, 9, 5, 0],
    Y=[0, 8, 28, 60, 70, 85, 82, 42, 22, 12, 8, 4, 0],
)

GROUP_1815 = [("Jan1815", JAN1815), ("Feb1815", FEB1815), ("Mar1815", MAR1815), ("Apr1815", APR1815),
              ("May1815", MAY1815), ("Jun1815", JUN1815), ("Jul1815", JUL1815), ("Aug1815", AUG1815),
              ("Sep1815", SEP1815), ("Oct1815", OCT1815), ("Nov1815", NOV1815), ("Dec1815", DEC1815)]
GROUP_1816 = [("Jan1816", JAN1816), ("Feb1816", FEB1816), ("Mar1816", MAR1816), ("Apr1816", APR1816),
              ("May1816", MAY1816), ("Jun1816", JUN1816), ("Jul1816", JUL1816), ("Aug1816", AUG1816),
              ("Sep1816", SEP1816), ("Oct1816", OCT1816), ("Nov1816", NOV1816), ("Dec1816", DEC1816)]
GROUP_1817 = [("Jan1817", JAN1817), ("Feb1817", FEB1817), ("Mar1817", MAR1817), ("Apr1817", APR1817),
              ("May1817", MAY1817), ("Jun1817", JUN1817), ("Jul1817", JUL1817), ("Aug1817", AUG1817),
              ("Sep1817", SEP1817), ("Oct1817", OCT1817), ("Nov1817", NOV1817), ("Dec1817", DEC1817)]
GROUP_1818 = [("Jan1818", JAN1818), ("Feb1818", FEB1818), ("Mar1818", MAR1818), ("Apr1818", APR1818),
              ("May1818", MAY1818), ("Jun1818", JUN1818), ("Jul1818", JUL1818), ("Aug1818", AUG1818),
              ("Sep1818", SEP1818), ("Oct1818", OCT1818), ("Nov1818", NOV1818), ("Dec1818", DEC1818)]

W = 135
H = 135
LABEL_FONT = "Liberation Sans"

XSCALE = alt.Scale(domain=[-90, 90], nice=False, zero=False)
YSCALE = alt.Scale(domain=[0, 1], nice=False, zero=False)


def axis_major(orient, values, fmt, length):
    return alt.Axis(orient=orient, values=values, format=fmt, title=None, domain=False, ticks=False,
                    labelFont=LABEL_FONT, labelFontSize=7, labelFontWeight="bold", labelColor="black",
                    labelPadding=2, labelFlush=False, labelOverlap=False,
                    grid=True, gridColor="black", gridWidth=1, gridOpacity=1,
                    gridDash=[4, length - 8, 4])


def axis_minor(orient, values, length):
    return alt.Axis(orient=orient, values=values, title=None, domain=False, ticks=False, labels=False,
                    grid=True, gridColor="black", gridWidth=1, gridOpacity=1,
                    gridDash=[2.5, length - 5, 2.5])


def make_panel(name, d):
    lat = d.get("lat", LAT)
    rows = []
    for key in SERIES:
        if key in d:
            for la, v in zip(lat, d[key]):
                rows.append({"lat": la, "aod": v / 100.0, "s": key})
    df = pd.DataFrame(rows)
    label_df = pd.DataFrame({"t": [name]})

    box = alt.Chart(label_df).mark_rect(fill="white", stroke="#3a3a3a", strokeWidth=1.5).encode(
        x=alt.value(2), x2=alt.value(86), y=alt.value(104), y2=alt.value(132))
    txt = alt.Chart(label_df).mark_text(align="left", baseline="alphabetic", font=LABEL_FONT,
                                        fontSize=18, color="#111111").encode(
        text="t:N", x=alt.value(10), y=alt.value(125))
    lines = alt.Chart(df).mark_line(interpolate="monotone", strokeWidth=1.7).encode(
        x=alt.X("lat:Q", scale=XSCALE, axis=axis_major("bottom", X_TICKS, "d", H)),
        y=alt.Y("aod:Q", scale=YSCALE, axis=axis_major("left", Y_TICKS, ".1f", W)),
        color=alt.Color("s:N", scale=alt.Scale(domain=SERIES, range=COLORS), legend=None),
    )
    minor = alt.Chart(df).mark_point(opacity=0, size=1).encode(
        x=alt.X("lat:Q", scale=XSCALE, axis=axis_minor("top", X_MINOR, H)),
        y=alt.Y("aod:Q", scale=YSCALE, axis=axis_minor("right", Y_MINOR, W)),
    )
    return alt.layer(box, txt, lines, minor).resolve_axis(x="independent", y="independent").properties(
        width=W, height=H)


def grid(group):
    return alt.concat(*[make_panel(n, d) for n, d in group], columns=4, bounds="flush",
                      spacing={"row": 15, "column": 20})


# annotation (axis legend at lower right)
ann_df = pd.DataFrame({"k": [0]})
ab = alt.Chart(ann_df)
ann = alt.layer(
    ab.mark_rule(color="#333333", strokeWidth=1).encode(x=alt.value(15), y=alt.value(423), y2=alt.value(362)),
    ab.mark_rule(color="#333333", strokeWidth=1).encode(x=alt.value(15), x2=alt.value(79), y=alt.value(423)),
    ab.mark_point(shape="triangle-up", filled=True, color="#333333", size=28, opacity=1).encode(
        x=alt.value(15), y=alt.value(360)),
    ab.mark_point(shape="triangle-right", filled=True, color="#333333", size=28, opacity=1).encode(
        x=alt.value(81), y=alt.value(423)),
    ab.mark_text(text="AOD", align="left", baseline="middle", font="Open Sans", fontSize=12,
                 color="#333333").encode(x=alt.value(5), y=alt.value(343)),
    ab.mark_text(text="latitude", align="left", baseline="middle", font="Open Sans", fontSize=12,
                 color="#333333").encode(x=alt.value(68), y=alt.value(436)),
).properties(width=120, height=440, view=alt.ViewBackground(stroke="transparent"))

block1 = alt.hconcat(grid(GROUP_1815), grid(GROUP_1816), spacing=7)
block2 = alt.hconcat(grid(GROUP_1817), grid(GROUP_1818), ann, spacing=7)

chart = alt.vconcat(block1, block2, spacing=18).properties(
    padding={"left": 6, "top": 5, "right": 0, "bottom": 0},
    background="white",
).configure_view(stroke="black", strokeWidth=2)

chart.save("out.html", embed_options={"renderer": "svg", "actions": False})
